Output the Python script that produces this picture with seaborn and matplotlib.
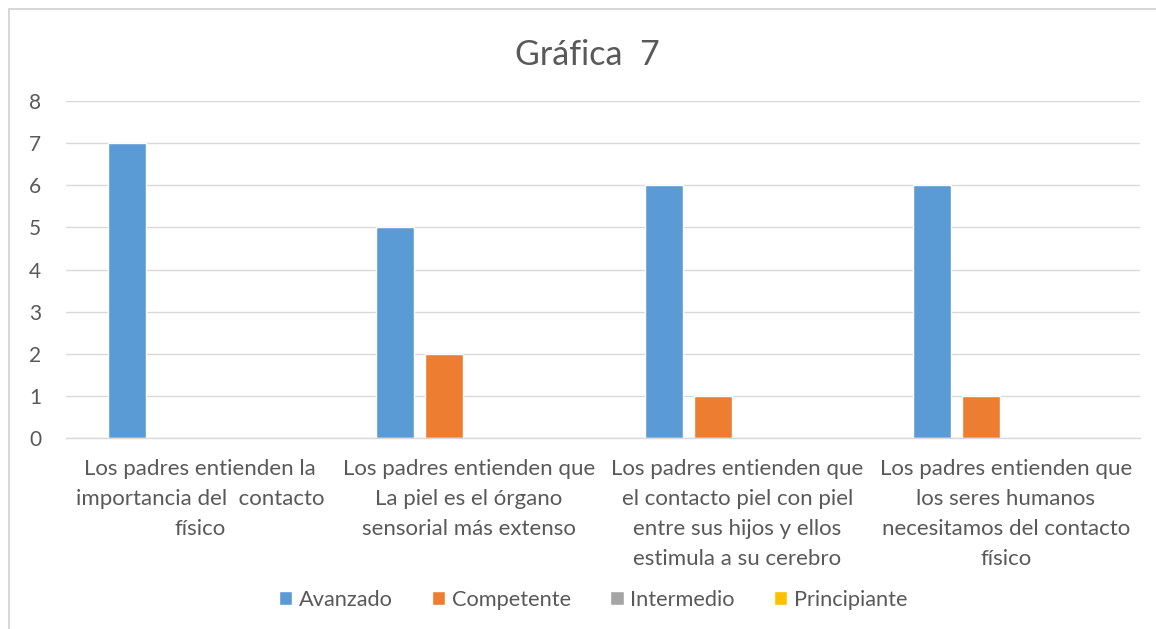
import matplotlib
matplotlib.use("Agg")
import matplotlib.pyplot as plt
import matplotlib.patches as mpatches
import seaborn as sns
import pandas as pd

# Data
categorias = [
    "Los padres entienden la\nimportancia del  contacto\nfísico",
    "Los padres entienden que\nLa piel es el órgano\nsensorial más extenso",
    "Los padres entienden que\nel contacto piel con piel\nentre sus hijos y ellos\nestimula a su cerebro",
    "Los padres entienden que\nlos seres humanos\nnecesitamos del contacto\nfísico",
]
niveles = ["Avanzado", "Competente", "Intermedio", "Principiante"]
avanzado = [7, 5, 6, 6]
competente = [0, 2, 1, 1]
intermedio = [0, 0, 0, 0]
principiante = [0, 0, 0, 0]
colores = ["#5B9BD5", "#ED7D31", "#A5A5A5", "#FFC000"]
titulo = "Gráfica  7"

rows = []
for serie, vals in zip(niveles, [avanzado, competente, intermedio, principiante]):
    for cat, v in zip(categorias, vals):
        rows.append({"categoria": cat, "nivel": serie, "valor": v})
df = pd.DataFrame(rows)

sns.set_theme(style="white")
plt.rcParams["font.family"] = ["Lato", "DejaVu Sans"]
texto = "#595959"
rejilla = "#D9D9D9"

fig = plt.figure(figsize=(11.56, 6.29), dpi=100)
ax = fig.add_axes([66 / 1156, 1 - 438 / 629, (1140 - 66) / 1156, (438 - 101) / 629])

sns.barplot(data=df, x="categoria", y="valor", hue="nivel", order=categorias,
            hue_order=niveles, palette=colores, width=0.73, gap=0.22,
            saturation=1, ax=ax, legend=True)

ax.set_ylim(0, 8)
ax.set_xlim(-0.5, 3.5)
ax.set_yticks(range(0, 9))
ax.yaxis.grid(True, color=rejilla, linewidth=1)
ax.set_axisbelow(True)
for s in ["left", "right", "top"]:
    ax.spines[s].set_visible(False)
ax.spines["bottom"].set_color(rejilla)
ax.spines["bottom"].set_linewidth(1)
ax.set_xlabel("")
ax.set_ylabel("")
ax.tick_params(axis="y", length=0, pad=18, labelsize=15, labelcolor=texto)
ax.tick_params(axis="x", length=0, pad=15, labelsize=16, labelcolor=texto)
for lab in ax.get_xticklabels():
    lab.set_linespacing(1.62)
    lab.set_verticalalignment("top")

handles, labels = ax.get_legend_handles_labels()
ax.legend_.remove()
fig.legend(handles, labels, loc="center", bbox_to_anchor=(593 / 1156, 1 - 600 / 629),
           ncol=4, frameon=False, fontsize=15.7, labelcolor=texto,
           handlelength=0.62, handleheight=0.62, handletextpad=0.3, columnspacing=1.8)

fig.text(587 / 1156, 1 - 55 / 629, titulo, ha="center", va="center",
         fontsize=24.5, color=texto)

# Chart-area frame
fig.patches.append(mpatches.Rectangle((9 / 1156, -0.05), 1.1, 1 - 9 / 629 + 0.05,
                                      transform=fig.transFigure, fill=False,
                                      edgecolor="#D0D0D0", linewidth=1.2))

fig.savefig("out.png", dpi=100, facecolor="white")
